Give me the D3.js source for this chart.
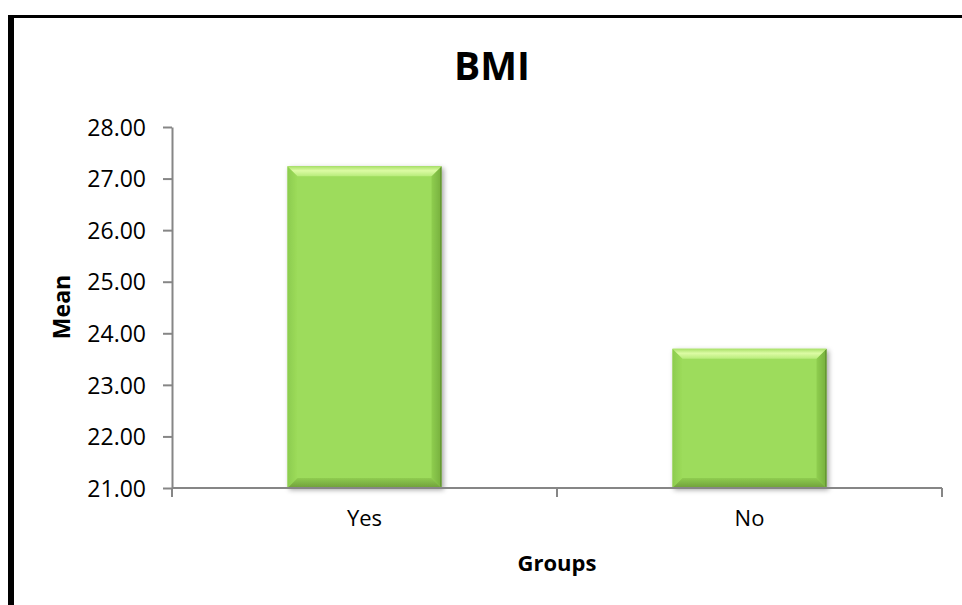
<!DOCTYPE html>
<html>
<head>
<meta charset="utf-8">
<script src="https://cdn.jsdelivr.net/npm/d3@7"></script>
<style>
  body { margin: 0; background: #fff; }
  text { font-family: "Open Sans", "DejaVu Sans", sans-serif; fill: #000; }
</style>
</head>
<body>
<div id="chart"></div>
<script>
// data
const groups = ["Yes", "No"];
const means = [27.24, 23.70];
const yTicks = [21, 22, 23, 24, 25, 26, 27, 28];
const chartTitle = "BMI";
const xTitle = "Groups";
const yTitle = "Mean";

const W = 962, H = 605;
const margin = { top: 127, right: 20, bottom: 117, left: 172 };
const plotW = 942 - margin.left;
const plotH = 488 - margin.top;

const svg = d3.select("#chart")
    .append("svg")
    .attr("width", W)
    .attr("height", H);

const defs = svg.append("defs");

const shadow = defs.append("filter")
    .attr("id", "shadow")
    .attr("x", "-10%").attr("y", "-10%")
    .attr("width", "130%").attr("height", "130%");
shadow.append("feDropShadow")
    .attr("dx", 2).attr("dy", 2)
    .attr("stdDeviation", 2.5)
    .attr("flood-color", "#000")
    .attr("flood-opacity", 0.35);

function grad(id, x2, y2, stops) {
    const g = defs.append("linearGradient")
        .attr("id", id)
        .attr("x1", 0).attr("y1", 0)
        .attr("x2", x2).attr("y2", y2);
    stops.forEach(s => g.append("stop").attr("offset", s[0]).attr("stop-color", s[1]));
}
grad("bevTop", 0, 1, [[0, "#a8e067"], [0.45, "#dcfba4"], [1, "#b8ec7b"]]);
grad("bevLeft", 1, 0, [[0, "#8ccc4e"], [1, "#9ddc5b"]]);
grad("bevRight", 1, 0, [[0, "#8fce50"], [0.8, "#7bb540"], [1, "#4f7d25"]]);
grad("bevBottom", 0, 1, [[0, "#8fcc50"], [1, "#6f9f3a"]]);

// outer chart border (only left and top visible)
svg.append("line")
    .attr("x1", 11).attr("x2", 11)
    .attr("y1", 15).attr("y2", H)
    .attr("stroke", "#000").attr("stroke-width", 6);
svg.append("line")
    .attr("x1", 8).attr("x2", W)
    .attr("y1", 16.5).attr("y2", 16.5)
    .attr("stroke", "#000").attr("stroke-width", 3);

const g = svg.append("g")
    .attr("transform", `translate(${margin.left},${margin.top})`);

const x = d3.scaleBand()
    .domain(groups)
    .range([0, plotW])
    .padding(0);

const y = d3.scaleLinear()
    .domain([21, 28])
    .range([plotH, 0]);

const data = groups.map((k, i) => ({ group: k, mean: means[i] }));
const barW = x.bandwidth() * 0.4;
const bev = 10;

const bars = g.selectAll(".bar")
    .data(data)
    .join("g")
    .attr("class", "bar")
    .attr("filter", "url(#shadow)");

bars.each(function (d) {
    const el = d3.select(this);
    const x0 = x(d.group) + (x.bandwidth() - barW) / 2;
    const x1 = x0 + barW;
    const y0 = y(d.mean);
    const y1 = y(21);
    el.append("rect")
        .attr("x", x0).attr("y", y0)
        .attr("width", barW).attr("height", y1 - y0)
        .attr("fill", "#9ddc5b");
    const poly = (pts, fill) => el.append("polygon")
        .attr("points", pts.map(p => p.join(",")).join(" "))
        .attr("fill", fill);
    poly([[x0, y0], [x0 + bev, y0 + bev], [x0 + bev, y1 - bev], [x0, y1]], "url(#bevLeft)");
    poly([[x1, y0], [x1 - bev, y0 + bev], [x1 - bev, y1 - bev], [x1, y1]], "url(#bevRight)");
    poly([[x0, y1], [x0 + bev, y1 - bev], [x1 - bev, y1 - bev], [x1, y1]], "url(#bevBottom)");
    poly([[x0, y0], [x1, y0], [x1 - bev, y0 + bev], [x0 + bev, y0 + bev]], "url(#bevTop)");
});

// y axis
const yAxis = g.append("g")
    .call(d3.axisLeft(y)
        .tickValues(yTicks)
        .tickFormat(d3.format(".2f"))
        .tickSize(9)
        .tickSizeOuter(0)
        .tickPadding(17));
yAxis.select(".domain").attr("stroke", "#868686").attr("stroke-width", 2);
yAxis.selectAll(".tick line").attr("stroke", "#868686").attr("stroke-width", 2);
yAxis.selectAll(".tick text")
    .attr("font-size", 23)
    .attr("dy", "0.36em")
    .style("font-family", "'Open Sans', sans-serif");

// x axis
const xAxis = g.append("g")
    .attr("transform", `translate(0,${plotH})`)
    .call(d3.axisBottom(x).tickSize(0).tickPadding(22));
xAxis.select(".domain").remove();
xAxis.selectAll(".tick text")
    .attr("font-size", 22)
    .style("font-family", "'Open Sans', sans-serif");

g.append("line")
    .attr("x1", 0).attr("x2", plotW)
    .attr("y1", plotH).attr("y2", plotH)
    .attr("stroke", "#868686").attr("stroke-width", 2);

const boundaries = [0, ...groups.map(k => x(k) + x.bandwidth())];
g.selectAll(".xtick")
    .data(boundaries)
    .join("line")
    .attr("class", "xtick")
    .attr("x1", d => d).attr("x2", d => d)
    .attr("y1", plotH).attr("y2", plotH + 9)
    .attr("stroke", "#868686").attr("stroke-width", 2);

// titles
svg.append("text")
    .attr("x", 492).attr("y", 80)
    .attr("text-anchor", "middle")
    .attr("font-size", 39)
    .attr("font-weight", "bold")
    .text(chartTitle);

svg.append("text")
    .attr("x", margin.left + plotW / 2)
    .attr("y", 571)
    .attr("text-anchor", "middle")
    .attr("font-size", 22)
    .attr("font-weight", "bold")
    .text(xTitle);

svg.append("text")
    .attr("transform", `translate(70,307) rotate(-90)`)
    .attr("text-anchor", "middle")
    .attr("font-size", 23)
    .attr("font-weight", "bold")
    .text(yTitle);
</script>
</body>
</html>
